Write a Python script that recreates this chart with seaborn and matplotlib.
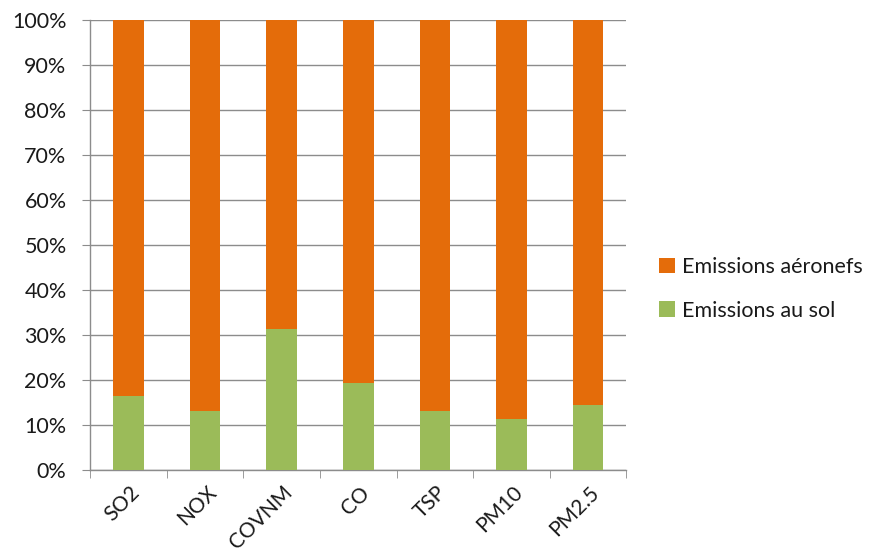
import matplotlib.pyplot as plt
import matplotlib.transforms as mtransforms
import numpy as np
import pandas as pd
import seaborn as sns
from matplotlib.ticker import FixedLocator, PercentFormatter

pollutants = ["SO2", "NOX", "COVNM", "CO", "TSP", "PM10", "PM2.5"]
ground_pct = [16.5, 13.1, 31.3, 19.3, 13.1, 11.4, 14.4]
aircraft_pct = [83.5, 86.9, 68.7, 80.7, 86.9, 88.6, 85.6]

ORANGE = "#E46C0A"
GREEN = "#9BBB59"
GRID = "#8C8C8C"
TEXT = "#1A1A1A"

sns.set_style("white")
plt.rcParams["font.family"] = ["Lato", "DejaVu Sans"]

df = pd.DataFrame({
    "pollutant": pollutants,
    "ground": ground_pct,
    "total": np.array(ground_pct) + np.array(aircraft_pct),
})

fig = plt.figure(figsize=(8.76, 5.57), dpi=100)
ax = fig.add_axes([0.103, 0.156, 0.612, 0.808])

sns.barplot(data=df, x="pollutant", y="total", color=ORANGE, width=0.4,
            saturation=1, linewidth=0, ax=ax, label="Emissions aéronefs", zorder=2)
sns.barplot(data=df, x="pollutant", y="ground", color=GREEN, width=0.4,
            saturation=1, linewidth=0, ax=ax, label="Emissions au sol", zorder=3)

ax.set_ylim(0, 100)
ax.set_xlim(-0.5, len(pollutants) - 0.5)
ax.set_yticks(np.arange(0, 101, 10))
ax.yaxis.set_major_formatter(PercentFormatter(decimals=0))
ax.yaxis.grid(True, color=GRID, linewidth=1)
ax.set_axisbelow(True)
ax.set_xlabel("")
ax.set_ylabel("")

for s in ["top", "right"]:
    ax.spines[s].set_visible(False)
for s in ["left", "bottom"]:
    ax.spines[s].set_color(GRID)
    ax.spines[s].set_linewidth(1)

ax.tick_params(axis="y", length=6, color=GRID, labelsize=15.5, pad=11,
               labelcolor=TEXT, left=True)
ax.tick_params(axis="x", which="major", length=0, labelsize=15, pad=14,
               labelcolor=TEXT)
ax.xaxis.set_minor_locator(FixedLocator(np.arange(-0.5, len(pollutants), 1)))
ax.tick_params(axis="x", which="minor", length=6, color=GRID, bottom=True)
shift = mtransforms.ScaledTranslation(8 / 100, 0, fig.dpi_scale_trans)
for lbl in ax.get_xticklabels():
    lbl.set_rotation(45)
    lbl.set_ha("right")
    lbl.set_va("center")
    lbl.set_rotation_mode("anchor")
    lbl.set_transform(lbl.get_transform() + shift)

handles, labels = ax.get_legend_handles_labels()
ax.legend(handles, labels, loc="center left", bbox_to_anchor=(1.045, 0.403),
          frameon=False, fontsize=15.5, handlelength=0.75, handleheight=0.75,
          handletextpad=0.3, labelspacing=1.1, labelcolor=TEXT,
          borderaxespad=0)

fig.savefig("out.png", dpi=100)
